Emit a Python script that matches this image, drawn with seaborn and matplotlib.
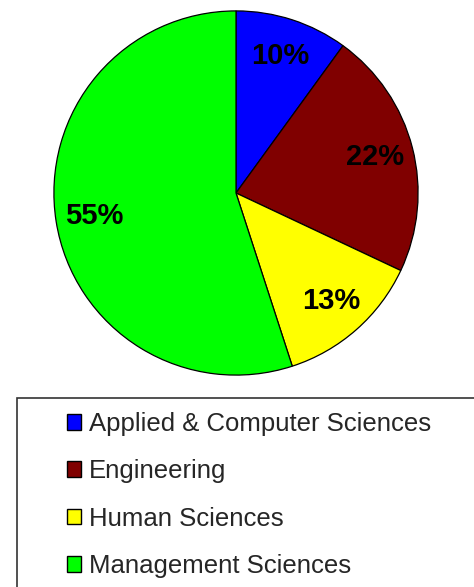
import matplotlib
matplotlib.use("Agg")
import matplotlib.pyplot as plt
import seaborn as sns
from matplotlib.patches import Rectangle

# data
faculties = ["Applied & Computer Sciences", "Engineering",
             "Human Sciences", "Management Sciences"]
shares = [10, 22, 13, 55]
slice_colors = ["#0000FF", "#800000", "#FFFF00", "#00FF00"]

sns.set_theme(style="white")
plt.rcParams["font.family"] = ["Liberation Sans", "DejaVu Sans"]

W, H = 474, 587
fig = plt.figure(figsize=(W / 100, H / 100), dpi=100)

# pie centre (236, 193) px from top-left, radius 183 px
cx, cy, r = 236, 193, 183
ax = fig.add_axes([(cx - r) / W, (H - cy - r) / H, 2 * r / W, 2 * r / H])
wedges, texts, autotexts = ax.pie(
    shares, colors=slice_colors, startangle=90, counterclock=False,
    autopct="%d%%", pctdistance=0.79, radius=1,
    wedgeprops=dict(edgecolor="black", linewidth=0.9),
    textprops=dict(fontsize=21, fontweight="bold", color="black"),
)
ax.set_xlim(-1.005, 1.005)
ax.set_ylim(-1.005, 1.005)
ax.set_aspect("equal")
ax.axis("off")

# legend frame (runs off the right and bottom edges)
box = Rectangle((17 / W, -0.05), 1.0, (H - 398) / H + 0.05,
                transform=fig.transFigure, facecolor="white",
                edgecolor="#333333", linewidth=1.2, zorder=0)
fig.patches.append(box)

leg = fig.legend(
    wedges, faculties, loc="upper left",
    bbox_to_anchor=(54 / W, (H - 399) / H),
    frameon=False, fontsize=18.5, handlelength=0.56, handleheight=0.56,
    handletextpad=0.3, labelspacing=0.91, borderpad=0,
)
for h in leg.legend_handles:
    h.set_edgecolor("black")
    h.set_linewidth(1.0)

fig.savefig("out.png", dpi=100)
